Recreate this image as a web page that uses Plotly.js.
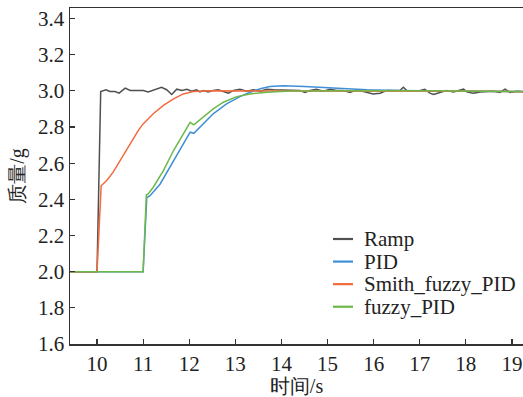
<!DOCTYPE html>
<html><head><meta charset="utf-8">
<script src="https://cdn.plot.ly/plotly-3.0.1.min.js"></script>
<style>html,body{margin:0;padding:0;background:#fff}#chart{width:523px;height:397px}</style>
</head><body><div id="chart"></div>
<script>
const seriesNames = ["Ramp", "PID", "Smith_fuzzy_PID", "fuzzy_PID"];
const seriesColors = ["#505050", "#3f8fd6", "#f26a3d", "#6cb848"];

const rampT = [9.4, 10.0, 10.08, 10.195, 10.28, 10.39, 10.48, 10.61, 10.72, 10.86, 11.005, 11.11, 11.26, 11.40, 11.51, 11.62, 11.73, 11.84, 11.95, 12.05, 12.16, 12.23, 12.31, 12.41, 12.52, 12.63, 12.74, 12.85, 12.96, 13.10, 13.25, 13.39, 13.54, 13.68, 13.83, 13.97, 14.11, 14.26, 14.40, 14.51, 14.62, 14.76, 14.91, 15.05, 15.20, 15.34, 15.49, 15.63, 15.85, 15.99, 16.14, 16.28, 16.43, 16.57, 16.645, 16.72, 16.86, 17.01, 17.11, 17.22, 17.30, 17.44, 17.58, 17.73, 17.87, 17.95, 18.02, 18.16, 18.31, 18.45, 18.60, 18.74, 18.85, 18.96, 19.10, 19.25];
const rampV = [2.0, 2.0, 2.996, 3.006, 2.996, 2.996, 2.987, 3.015, 3.002, 3.002, 3.002, 2.994, 3.009, 3.020, 3.006, 2.980, 3.009, 3.002, 3.009, 2.998, 3.006, 2.994, 3.002, 2.994, 3.002, 3.006, 2.996, 2.987, 3.002, 3.009, 2.998, 3.006, 2.998, 3.009, 3.006, 3.006, 3.002, 3.006, 3.002, 2.991, 3.002, 3.009, 2.998, 3.009, 3.002, 3.002, 2.991, 3.006, 2.994, 2.983, 2.987, 3.002, 3.002, 3.002, 3.020, 3.002, 2.998, 3.002, 3.009, 2.987, 2.980, 2.991, 3.002, 2.994, 3.002, 3.009, 2.994, 2.987, 2.994, 2.994, 2.998, 2.991, 3.009, 2.991, 2.998, 2.994];

const pidT = [9.4, 11.0, 11.08, 11.15, 11.37, 11.58, 11.87, 12.02, 12.10, 12.31, 12.52, 12.81, 13.10, 13.32, 13.54, 13.75, 14.04, 14.5, 15.13, 15.5, 15.85, 16.5, 17.5, 18.5, 19.25];
const pidV = [2.0, 2.0, 2.41, 2.42, 2.485, 2.577, 2.707, 2.771, 2.765, 2.817, 2.873, 2.928, 2.968, 2.992, 3.011, 3.024, 3.028, 3.024, 3.015, 3.01, 3.006, 3.002, 3.0, 2.998, 2.996];

const smithT = [9.4, 10.0, 10.09, 10.21, 10.35, 10.50, 10.64, 10.79, 10.90, 11.00, 11.11, 11.22, 11.44, 11.66, 11.87, 12.09, 12.4, 12.8, 13.5, 14.5, 15.5, 16.5, 17.5, 18.5, 19.25];
const smithV = [2.0, 2.0, 2.475, 2.504, 2.55, 2.614, 2.679, 2.743, 2.783, 2.817, 2.847, 2.873, 2.919, 2.956, 2.983, 2.996, 3.0, 3.0, 3.0, 3.0, 2.999, 2.998, 2.998, 2.997, 2.995];

const fuzzyT = [9.4, 11.0, 11.07, 11.11, 11.22, 11.44, 11.66, 11.87, 12.02, 12.10, 12.31, 12.52, 12.74, 13.03, 13.32, 13.68, 14.2, 15.0, 16.0, 17.0, 18.0, 19.25];
const fuzzyV = [2.0, 2.0, 2.425, 2.43, 2.467, 2.559, 2.67, 2.762, 2.826, 2.812, 2.854, 2.90, 2.937, 2.968, 2.983, 2.992, 2.999, 3.001, 3.0, 3.0, 2.998, 2.996];

const xTickVals = [10, 11, 12, 13, 14, 15, 16, 17, 18, 19];
const yTickVals = [1.6, 1.8, 2.0, 2.2, 2.4, 2.6, 2.8, 3.0, 3.2, 3.4];
const yTickText = ["1.6", "1.8", "2.0", "2.2", "2.4", "2.6", "2.8", "3.0", "3.2", "3.4"];

const xs = [rampT, pidT, smithT, fuzzyT];
const ys = [rampV, pidV, smithV, fuzzyV];
const traces = seriesNames.map((n, i) => ({
  x: xs[i], y: ys[i], name: n, type: "scatter", mode: "lines",
  line: {color: seriesColors[i], width: 1.5}, showlegend: false
}));

const serif = "Liberation Serif";

// legend drawn in paper coordinates (layout only)
const legX0 = 0.5806, legX1 = 0.6247, legTextX = 0.6446, legTop = 0.3125, legStep = 0.0672;
const legendShapes = seriesNames.map((n, i) => ({
  type: "line", xref: "paper", yref: "paper",
  x0: legX0, x1: legX1, y0: legTop - i * legStep, y1: legTop - i * legStep,
  line: {color: seriesColors[i], width: 2.2}
}));
const legendAnnots = seriesNames.map((n, i) => ({
  text: n, xref: "paper", yref: "paper", x: legTextX, y: legTop - i * legStep,
  xanchor: "left", yanchor: "middle", showarrow: false,
  font: {family: serif, size: 21, color: "#222"}
}));

const layout = {
  width: 523, height: 397,
  margin: {l: 70, r: 0, t: 8, b: 53},
  paper_bgcolor: "#fff", plot_bgcolor: "#fff",
  font: {family: serif, size: 20, color: "#222"},
  showlegend: false,
  shapes: legendShapes,
  annotations: legendAnnots,
  xaxis: {
    range: [9.414, 19.24], tickvals: xTickVals, ticks: "inside", ticklen: 5, tickwidth: 1.2, tickcolor: "#333",
    showline: true, linecolor: "#333", linewidth: 1.5, mirror: true, showgrid: false, zeroline: false,
    title: {text: "时间/s", font: {size: 20, family: serif}, standoff: 7},
    tickfont: {size: 21, family: serif}
  },
  yaxis: {
    range: [1.6, 3.458], tickvals: yTickVals, ticktext: yTickText, ticks: "inside", ticklen: 5, tickwidth: 1.2, tickcolor: "#333",
    showline: true, linecolor: "#333", linewidth: 1.5, showgrid: false, zeroline: false,
    title: {text: "质量/g", font: {size: 20, family: serif}, standoff: 8},
    tickfont: {size: 21, family: serif}
  }
};
Plotly.newPlot("chart", traces, layout, {displayModeBar: false, staticPlot: true});
</script></body></html>
